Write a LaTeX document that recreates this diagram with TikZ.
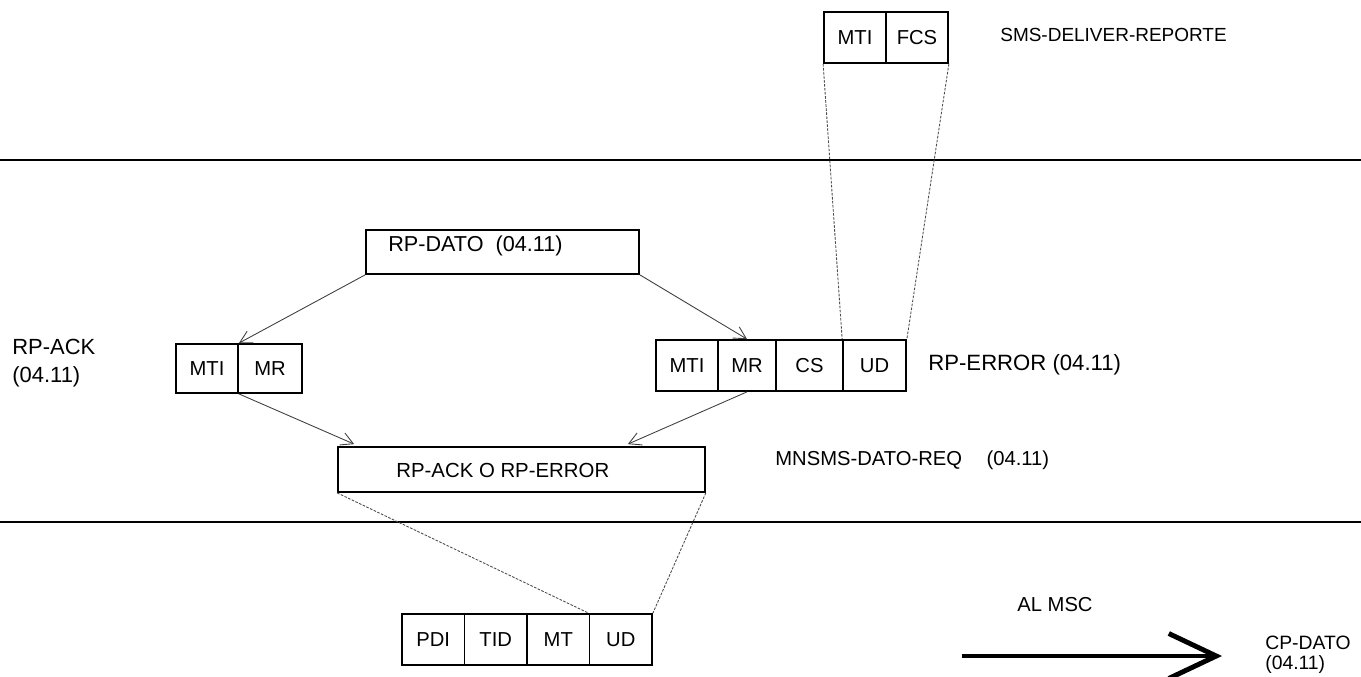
\documentclass[tikz,border=0pt]{standalone}
\usepackage{fontspec}
\setmainfont{Liberation Sans}
\usetikzlibrary{arrows.meta, calc}

\tikzset{
    cell/.style={draw, line width=1pt, minimum height=1.02cm, inner sep=0pt, font=\fontsize{11.5}{13}\selectfont},
    widebox/.style={draw, line width=1pt, inner sep=0pt},
    lbl/.style={anchor=west, inner sep=0pt},
    flow/.style={draw=black!75, line width=0.5pt, -{Straight Barb[length=2.4mm, width=2.6mm]}},
    link/.style={draw=black!70, line width=0.5pt, dash pattern=on 1.5pt off 0.8pt},
    layer/.style={line width=0.8pt},
}

\begin{document}
\begin{tikzpicture}[x=0.02cm, y=-0.02cm]
    \useasboundingbox (0,0) rectangle (1361,676);

    % Layer borders
    \draw[layer] (0,160) -- (1361,160);
    \draw[layer] (0,522) -- (1361,522);

    % SMS-DELIVER-REPORTE
    \foreach \name/\x/\txt in {tmti/855/MTI, tfcs/917/FCS}
        \node[cell, minimum width=1.24cm] (\name) at (\x,37.5) {\txt};
    \node[lbl, font=\fontsize{10.8}{13}\selectfont] (smsrep) at (1000,35) {SMS-DELIVER-REPORTE};

    % RP-DATO
    \node[widebox, minimum width=5.46cm, minimum height=0.88cm] (rpdato) at (502.5,252) {};
    \node[lbl, font=\fontsize{12.3}{14}\selectfont] (rpdatotxt) at (388,246) {RP-DATO\ \ (04.11)};

    % RP-ACK
    \node[cell, minimum width=1.24cm, minimum height=0.98cm] (ackmti) at (207,368.5) {MTI};
    \node[cell, minimum width=1.28cm, minimum height=0.98cm] (ackmr) at (270,368.5) {MR};
    \node[lbl, align=left, font=\fontsize{12.5}{15.5}\selectfont] (acklbl) at (12,363) {RP-ACK\\(04.11)};

    % RP-ERROR
    \foreach \name/\x/\w/\txt in {errmti/687/1.24/MTI, errmr/747/1.16/MR, errcs/809.5/1.34/CS, errud/874.5/1.26/UD}
        \node[cell, minimum width=\w cm] (\name) at (\x,365.5) {\txt};
    \node[lbl, font=\fontsize{12.6}{15}\selectfont] (errlbl) at (928,365) {RP-ERROR (04.11)};

    % RP-ACK o RP-ERROR
    \node[widebox, minimum width=7.34cm, minimum height=0.9cm] (rpresp) at (521.5,469.5) {};
    \node[lbl, font=\fontsize{11.6}{14}\selectfont] (rpresptxt) at (396,470) {RP-ACK O RP-ERROR};
    \node[lbl, font=\fontsize{11.5}{14}\selectfont] (mnsms) at (775,460) {MNSMS-DATO-REQ\hspace{14pt}(04.11)};

    % CP-DATO
    \foreach \name/\x/\txt in {cppdi/433.25/PDI, cptid/495.75/TID, cpmt/558.25/MT, cpud/620.75/UD}
        \node[cell, minimum width=1.25cm] (\name) at (\x,639.5) {\txt};

    % Towards MSC
    \coordinate (mscfrom) at (962,656);
    \coordinate (mscto) at (1222,656);
    \draw[line width=2.8pt, -{Straight Barb[length=0.95cm, width=0.9cm]}] (mscfrom) -- (mscto);
    \node[lbl, font=\fontsize{11.5}{14}\selectfont] (almsc) at (1017,605) {AL MSC};
    \node[lbl, align=left, font=\fontsize{11}{11.5}\selectfont] (cplbl) at (1265,655) {CP-DATO\\(04.11)};

    % Connectors
    \draw[flow] (rpdato.south west) -- (ackmti.north east);
    \draw[flow] (rpdato.south east) -- (errmr.north);
    \draw[flow] (ackmti.south east) -- ($(rpresp.north west)+(17,-2)$);
    \draw[flow] (errmr.south) -- ($(rpresp.north east)+(-78,-2)$);

    \draw[link] (tmti.south west) -- (errud.north west);
    \draw[link] (tfcs.south east) -- (errud.north east);
    \draw[link] (rpresp.south west) -- (cpud.north west);
    \draw[link] (rpresp.south east) -- (cpud.north east);
\end{tikzpicture}
\end{document}
